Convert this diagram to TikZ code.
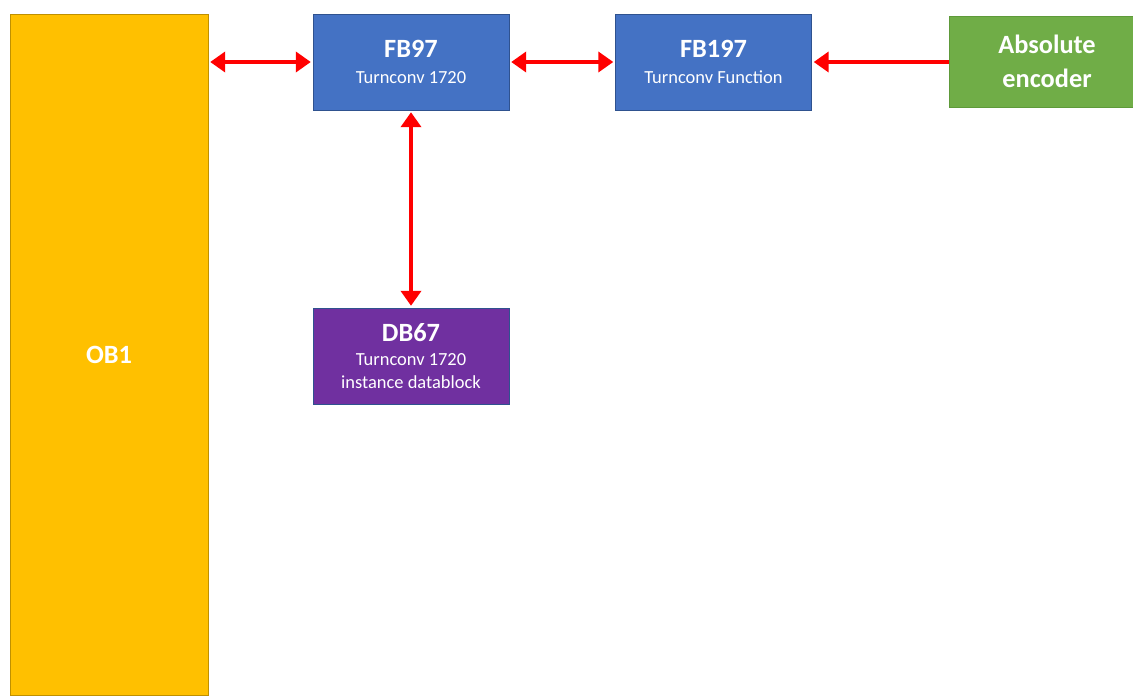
\documentclass[tikz,border=0pt]{standalone}
\usepackage{fontspec}
\setmainfont{Carlito}
\usepackage{tikz}
\usetikzlibrary{arrows.meta, positioning, calc}
\definecolor{obyellow}{HTML}{FFC000}
\definecolor{obedge}{HTML}{BF9000}
\definecolor{fbblue}{HTML}{4472C4}
\definecolor{fbedge}{HTML}{2F528F}
\definecolor{dbpurple}{HTML}{7030A0}
\definecolor{encgreen}{HTML}{70AD47}
\definecolor{encedge}{HTML}{5E9A3A}
\tikzset{
    block/.style={draw=fbedge, line width=0.5pt, fill=fbblue, text=white,
        minimum width=3.92cm, minimum height=1.92cm, align=center,
        inner sep=2pt, font=\fontsize{10.5}{13}\selectfont},
    link/.style={{Triangle[length=0.3cm, width=0.4cm]}-{Triangle[length=0.3cm, width=0.4cm]},
        red, line width=2.8pt, shorten <=1pt, shorten >=1pt},
    feed/.style={-{Triangle[length=0.3cm, width=0.4cm]}, red, line width=2.8pt,
        shorten >=1pt},
}
\begin{document}
\begin{tikzpicture}
        \useasboundingbox (0,0) rectangle (22.66,13.9);
        \clip (0,0) rectangle (22.66,13.9);

        % Bausteine
        \node[block, draw=obedge, fill=obyellow, minimum width=3.96cm, minimum height=13.62cm,
            font=\fontsize{15}{17}\selectfont\bfseries] (OB1) at (2.18,6.81) {OB1};
        \node[block] (FB97) at (8.22,12.66) {{\fontsize{15}{18}\selectfont\bfseries FB97}\\[2pt]Turnconv 1720};
        \node[block] (FB197) at (14.27,12.66) {{\fontsize{15}{18}\selectfont\bfseries FB197}\\[2pt]Turnconv Function};
        \node[block, draw=encedge, fill=encgreen, minimum height=1.82cm,
            font=\fontsize{15}{19.5}\selectfont\bfseries] (ENC) at (20.94,12.67) {Absolute\\encoder};
        \node[block, fill=dbpurple] (DB67) at (8.22,6.78) {{\fontsize{15}{18}\selectfont\bfseries DB67}\\[1pt]Turnconv 1720\\instance datablock};

        % Verbindungen
        \draw[link] (FB97.west -| OB1.east) -- (FB97.west);
        \draw[link] (FB97.east) -- (FB197.west);
        \draw[feed] (FB197.east -| ENC.west) -- (FB197.east);
        \draw[link] (FB97.south) -- (DB67.north);
    \end{tikzpicture}
\end{document}
